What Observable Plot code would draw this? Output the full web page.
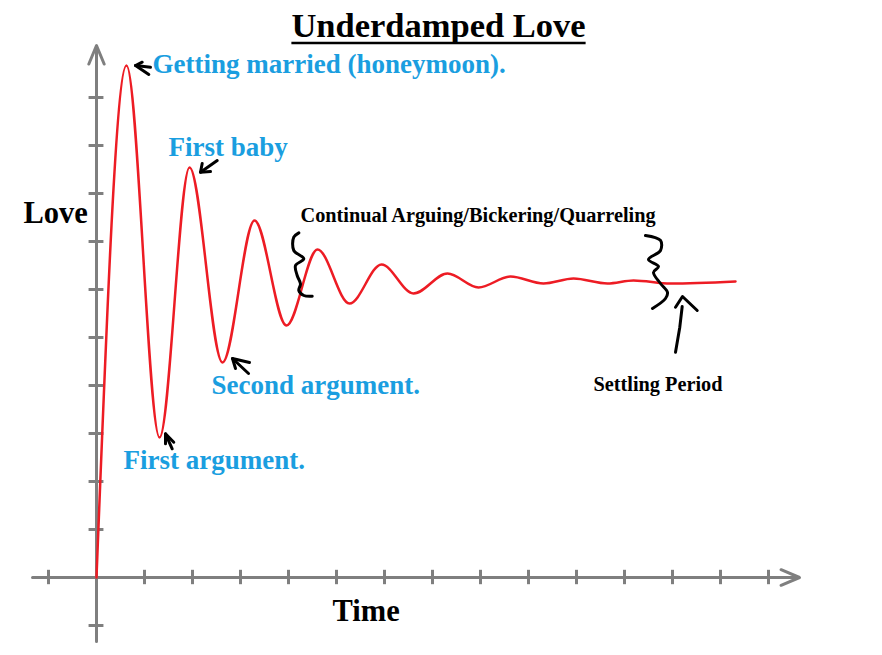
<!DOCTYPE html>
<html>
<head>
<meta charset="utf-8">
<script src="https://cdn.jsdelivr.net/npm/d3@7"></script>
<script src="https://cdn.jsdelivr.net/npm/@observablehq/plot@0.6"></script>
<style>
  html, body { margin: 0; padding: 0; background: #ffffff; }
  #chart svg { display: block; }
</style>
</head>
<body>
<div id="chart"></div>
<script>
// ---- Data (1 unit = one tick interval) ----
const titleText = "Underdamped Love";

// red curve: time and love level at its turning points
const time = [0, 0.625, 1.313, 1.938, 2.625, 3.292, 3.958, 4.604, 5.271, 5.938, 6.604, 7.313, 7.958, 8.625, 9.313, 9.938, 10.646, 11.188, 11.958, 13.313];
const love = [0, 10.667, 2.917, 8.542, 4.479, 7.438, 5.25, 6.833, 5.708, 6.521, 5.917, 6.333, 6.042, 6.271, 6.125, 6.229, 6.125, 6.188, 6.125, 6.167];

// axis tick positions
const xTicks = [-1, 1, 2, 3, 4, 5, 6, 7, 8, 9, 10, 11, 12, 13, 14];
const yTicks = [-1, 1, 2, 3, 4, 5, 6, 7, 8, 9, 10];
const xAxisExtent = [-1.333, 14.646];
const yAxisExtent = [-1.333, 11.083];

// annotations
const blueLabels = ["Getting married (honeymoon).", "First baby", "Second argument.", "First argument."];
const blueX = [1.167, 1.5, 2.396, 0.5625];
const blueY = [10.5, 8.771, 3.833, 2.25];

const blackLabels = ["Continual Arguing/Bickering/Quarreling", "Settling Period"];
const blackX = [4.25, 10.354];
const blackY = [7.396, 3.875];

const axisLabels = ["Love", "Time"];
const axisLabelX = [-1.521, 4.917];
const axisLabelY = [7.375, -0.896];

// hand-drawn pointers (polylines, data units)
const pointerStrokes = [
  {id: "honeymoon-head", pts: [[0.952, 10.735], [0.8125, 10.667], [1.090, 10.479]]},
  {id: "honeymoon-shaft", pts: [[0.8125, 10.667], [1.125, 10.631]]},
  {id: "baby-head", pts: [[2.202, 8.625], [2.1667, 8.444], [2.375, 8.458]]},
  {id: "baby-shaft", pts: [[2.1667, 8.444], [2.515, 8.6875]]},
  {id: "arg2-head", pts: [[3.1875, 4.479], [2.833, 4.5625], [2.896, 4.354]]},
  {id: "arg2-shaft", pts: [[2.833, 4.5625], [3.167, 4.25]]},
  {id: "arg1-head", pts: [[1.610, 2.819], [1.4375, 2.994], [1.4375, 2.785]]},
  {id: "arg1-shaft", pts: [[1.4375, 2.994], [1.577, 2.681]]},
  {id: "settle-head", pts: [[12.0625, 5.631], [12.208, 5.854], [12.515, 5.5625]]},
  {id: "settle-shaft", pts: [[12.202, 5.646], [12.152, 5.215], [12.0625, 4.694]]}
];

// hand-drawn braces around the "continual arguing" stretch
const leftBrace = [[4.215, 7.181], [4.110, 7.090], [4.110, 6.8125], [4.319, 6.640], [4.146, 6.5], [4.181, 6.292], [4.25, 6.119], [4.215, 5.979], [4.319, 5.875], [4.494, 5.860]];
const rightBrace = [[11.4375, 7.125], [11.75, 7.021], [11.75, 6.8125], [11.5, 6.625], [11.708, 6.479], [11.604, 6.354], [11.75, 6.125], [11.896, 5.9375], [11.854, 5.8125], [11.583, 5.604]];

// ---- Build tables ----
const curveData = time.map((t, i) => ({t, v: love[i]}));
const blueNotes = blueLabels.map((label, i) => ({label, x: blueX[i], y: blueY[i]}));
const blackNotes = blackLabels.map((label, i) => ({label, x: blackX[i], y: blackY[i]}));
const axisNotes = axisLabels.map((label, i) => ({label, x: axisLabelX[i], y: axisLabelY[i]}));
const pointerData = pointerStrokes.flatMap(s => s.pts.map(([x, y]) => ({id: s.id, x, y})));
const braceData = [
  ...leftBrace.map(([x, y]) => ({id: "left", x, y})),
  ...rightBrace.map(([x, y]) => ({id: "right", x, y}))
];

const gray = "#7f7f7f";
const red = "#ed1c24";
const blue = "#1a9ee0";
const serif = "'Liberation Serif', 'Times New Roman', serif";

const chart = Plot.plot({
  width: 882,
  height: 655,
  margin: 0,
  style: {background: "#ffffff", overflow: "visible"},
  x: {domain: [-2, 16.375], axis: null},
  y: {domain: [-1.625, 12.0208], axis: null},
  marks: [
    // axes with arrowheads
    Plot.arrow([{x1: xAxisExtent[0], x2: xAxisExtent[1], y: 0}], {
      x1: "x1", x2: "x2", y1: "y", y2: "y",
      stroke: gray, strokeWidth: 3, headLength: 10, headAngle: 46
    }),
    Plot.arrow([{y1: yAxisExtent[0], y2: yAxisExtent[1], x: 0}], {
      x1: "x", x2: "x", y1: "y1", y2: "y2",
      stroke: gray, strokeWidth: 3, headLength: 10, headAngle: 45
    }),
    // tick marks crossing the axes
    Plot.ruleX(xTicks, {x: d => d, y1: -0.15, y2: 0.15, stroke: gray, strokeWidth: 3}),
    Plot.ruleY(yTicks, {y: d => d, x1: -0.155, x2: 0.155, stroke: gray, strokeWidth: 3}),
    // the love curve
    Plot.line(curveData, {x: "t", y: "v", curve: "monotone-x", stroke: red, strokeWidth: 2.5}),
    // hand-drawn braces and pointers
    Plot.line(braceData, {x: "x", y: "y", z: "id", curve: "catmull-rom", stroke: "#000", strokeWidth: 3, strokeLinecap: "round", strokeLinejoin: "round"}),
    Plot.line(pointerData, {x: "x", y: "y", z: "id", stroke: "#000", strokeWidth: 3, strokeLinecap: "round", strokeLinejoin: "round"}),
    // texts
    Plot.text([titleText], {x: () => 7.125, y: () => 11.25, text: d => d, textAnchor: "middle", lineAnchor: "bottom",
      fontFamily: serif, fontWeight: "bold", fontSize: 34.5, fill: "#000"}),
    Plot.text(blueNotes, {x: "x", y: "y", text: "label", textAnchor: "start", lineAnchor: "bottom",
      fontFamily: serif, fontWeight: "bold", fontSize: 27, fill: blue}),
    Plot.text(blackNotes, {x: "x", y: "y", text: "label", textAnchor: "start", lineAnchor: "bottom",
      fontFamily: serif, fontWeight: "bold", fontSize: 20.3, fill: "#000"}),
    Plot.text(axisNotes, {x: "x", y: "y", text: "label", textAnchor: "start", lineAnchor: "bottom",
      fontFamily: serif, fontWeight: "bold", fontSize: 30.5, fill: "#000"})
  ]
});

document.getElementById("chart").appendChild(chart);

// underline the title, using the rendered text's own box on the page
const titleNode = d3.select(chart).selectAll("text").filter(function () { return this.textContent === titleText; }).node();
if (titleNode) {
  const r = titleNode.getBoundingClientRect();
  const s = chart.getBoundingClientRect();
  const baseY = chart.scale("y").apply(11.25);
  d3.select(chart).append("line")
    .attr("x1", r.left - s.left).attr("x2", r.right - s.left)
    .attr("y1", baseY + 6).attr("y2", baseY + 6)
    .attr("stroke", "#000").attr("stroke-width", 2.5);
}
</script>
</body>
</html>
